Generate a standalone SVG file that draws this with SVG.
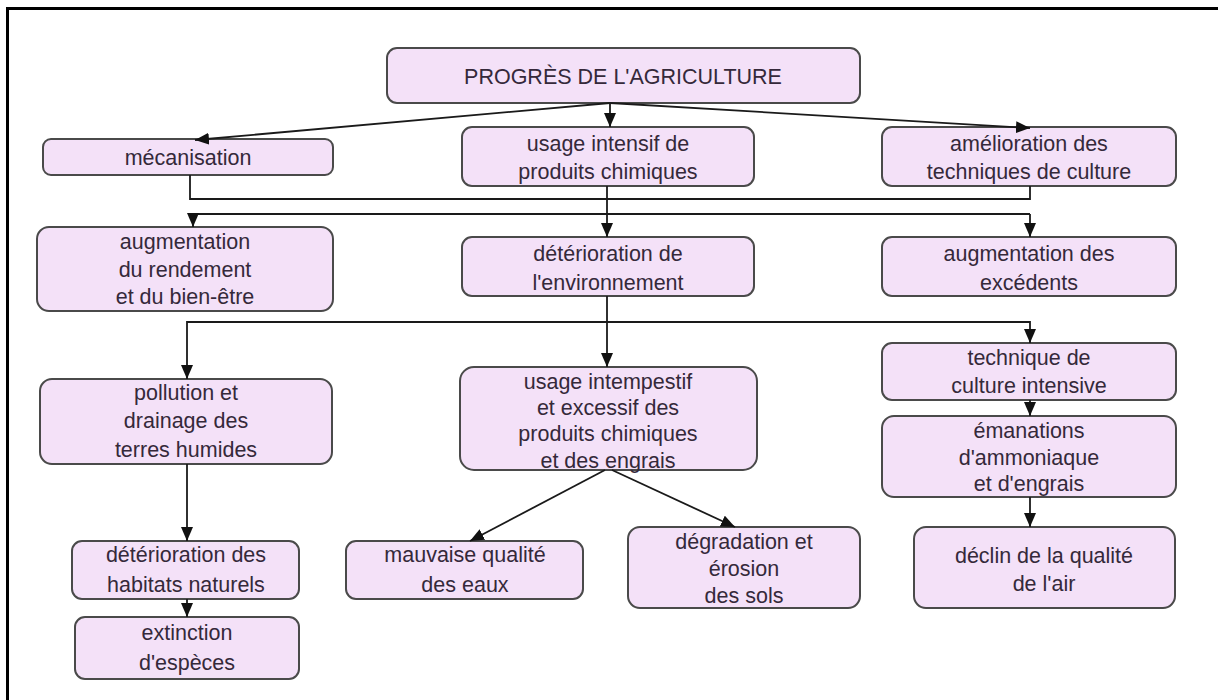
<svg xmlns="http://www.w3.org/2000/svg" width="1218" height="700" viewBox="0 0 1218 700">
<defs>
<marker id="ah" viewBox="0 0 14 12" refX="14" refY="6" markerWidth="14" markerHeight="12" markerUnits="userSpaceOnUse" orient="auto"><path d="M0,0 L14,6 L0,12 z" fill="#111"/></marker>
<style>
.n rect{fill:#f4e1f8;stroke:#4a4a4a;stroke-width:2}
.n text{font-family:"Liberation Sans",Arial,sans-serif;font-size:21.5px;fill:#35293a;text-anchor:middle}
.c path{fill:none;stroke:#1a1a1a;stroke-width:1.8}
.c .a{marker-end:url(#ah)}
</style>
</defs>
<rect width="1218" height="700" fill="#fff"/>
<path d="M7.5,700 V8.5 H1218" fill="none" stroke="#000" stroke-width="3"/>
<g class="n" id="n-progres"><rect x="387" y="48" width="473" height="55" rx="10"/><text x="623" y="84">PROGRÈS DE L'AGRICULTURE</text></g>
<g class="n" id="n-meca"><rect x="43" y="139" width="290" height="36" rx="8"/><text x="188" y="165">mécanisation</text></g>
<g class="n" id="n-usage"><rect x="462" y="127" width="292" height="59" rx="10"/><text x="608" y="151">usage intensif de</text><text x="608" y="179">produits chimiques</text></g>
<g class="n" id="n-amelio"><rect x="882" y="127" width="294" height="59" rx="10"/><text x="1029" y="151">amélioration des</text><text x="1029" y="179">techniques de culture</text></g>
<g class="n" id="n-rend"><rect x="37" y="227" width="296" height="84" rx="12"/><text x="185" y="249">augmentation</text><text x="185" y="277">du rendement</text><text x="185" y="304">et du bien-être</text></g>
<g class="n" id="n-deterio"><rect x="462" y="237" width="292" height="59" rx="10"/><text x="608" y="261">détérioration de</text><text x="608" y="290">l'environnement</text></g>
<g class="n" id="n-excedents"><rect x="882" y="237" width="294" height="59" rx="10"/><text x="1029" y="261">augmentation des</text><text x="1029" y="290">excédents</text></g>
<g class="n" id="n-pollution"><rect x="40" y="379" width="292" height="85" rx="12"/><text x="186" y="400">pollution et</text><text x="186" y="428">drainage des</text><text x="186" y="457">terres humides</text></g>
<g class="n" id="n-intemp"><rect x="460" y="367" width="297" height="103" rx="14"/><text x="608" y="389">usage intempestif</text><text x="608" y="415">et excessif des</text><text x="608" y="441">produits chimiques</text><text x="608" y="468">et des engrais</text></g>
<g class="n" id="n-technique"><rect x="882" y="343" width="294" height="57" rx="10"/><text x="1029" y="365">technique de</text><text x="1029" y="393">culture intensive</text></g>
<g class="n" id="n-emanations"><rect x="882" y="416" width="294" height="81" rx="12"/><text x="1029" y="438">émanations</text><text x="1029" y="465">d'ammoniaque</text><text x="1029" y="491">et d'engrais</text></g>
<g class="n" id="n-habitats"><rect x="72" y="541" width="227" height="58" rx="10"/><text x="186" y="562">détérioration des</text><text x="186" y="592">habitats naturels</text></g>
<g class="n" id="n-extinction"><rect x="75" y="617" width="224" height="62" rx="10"/><text x="187" y="640">extinction</text><text x="187" y="670">d'espèces</text></g>
<g class="n" id="n-eaux"><rect x="346" y="541" width="237" height="58" rx="10"/><text x="465" y="562">mauvaise qualité</text><text x="465" y="592">des eaux</text></g>
<g class="n" id="n-sols"><rect x="628" y="527" width="232" height="81" rx="12"/><text x="744" y="549">dégradation et</text><text x="744" y="576">érosion</text><text x="744" y="603">des sols</text></g>
<g class="n" id="n-air"><rect x="914" y="527" width="261" height="81" rx="12"/><text x="1044" y="563">déclin de la qualité</text><text x="1044" y="591">de l'air</text></g>
<g class="c" id="connectors">
<path class="a" d="M610,103 L195,140"/>
<path class="a" d="M610,103 V127"/>
<path class="a" d="M610,103 L1030,128"/>
<path d="M190,175 V199 H1030 V186"/>
<path class="a" d="M1030,214 H193 V227"/>
<path class="a" d="M1030,214 V237"/>
<path class="a" d="M607,186 V237"/>
<path class="a" d="M607,296 V367"/>
<path class="a" d="M607,322 H187 V379"/>
<path class="a" d="M607,322 H1030 V343"/>
<path class="a" d="M187,464 V541"/>
<path class="a" d="M187,599 V617"/>
<path class="a" d="M605,470 L470,541"/>
<path class="a" d="M612,470 L735,527"/>
<path class="a" d="M1030,400 V416"/>
<path class="a" d="M1030,497 V527"/>
</g>
</svg>
